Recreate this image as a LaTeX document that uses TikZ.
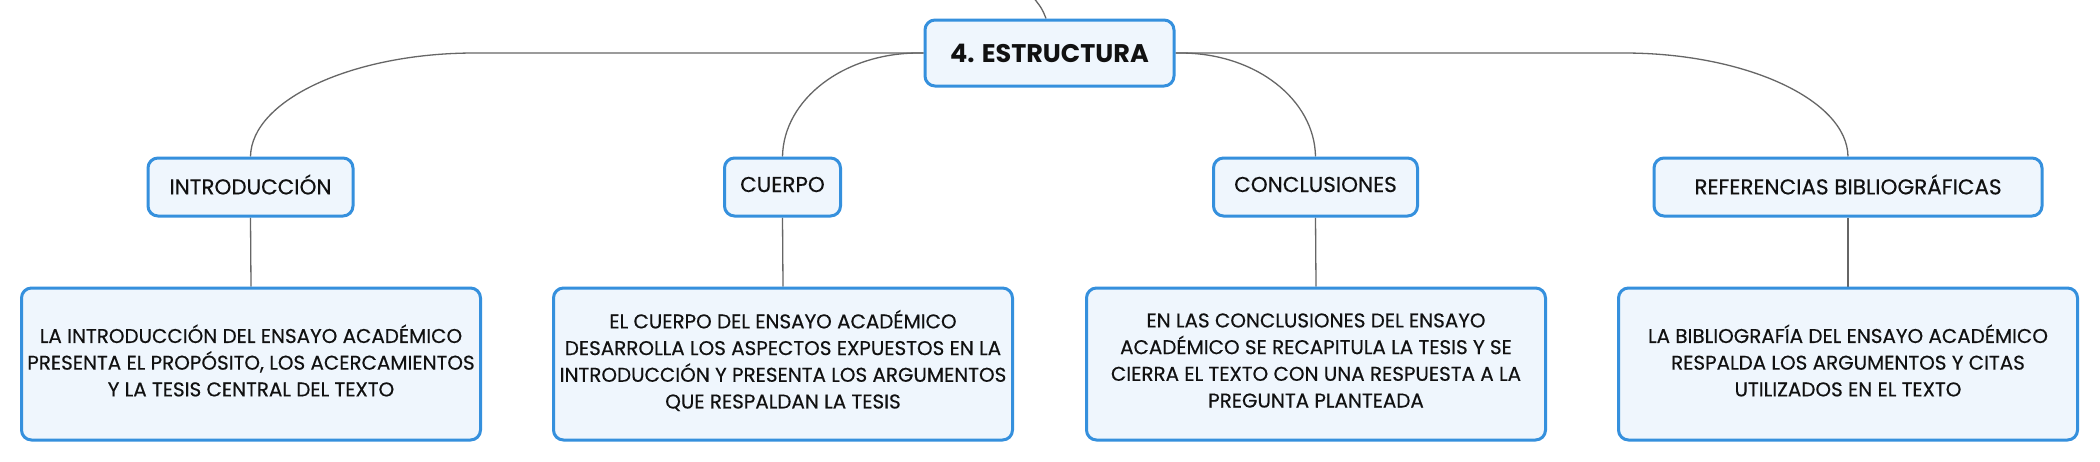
\documentclass[tikz,border=0pt]{standalone}
\usepackage{fontspec}
\setmainfont{Poppins}
\newfontfamily\medfont{Poppins}[FakeBold=0.4]
\usetikzlibrary{backgrounds}
\definecolor{boxborder}{HTML}{3590DD}
\definecolor{boxfill}{HTML}{EFF6FD}
\definecolor{conncol}{HTML}{666666}
\definecolor{txtcol}{HTML}{111111}
\tikzset{
  base/.style={draw=boxborder, fill=boxfill, line width=3pt, rounded corners=10pt,
    text=txtcol, inner sep=0pt, align=center},
  rootbox/.style={base, minimum width=249pt, minimum height=66pt,
    font=\fontsize{25.5}{29}\selectfont\bfseries},
  topicbox/.style={base, minimum height=58pt},
  topictext/.style={text=txtcol, inner sep=0pt, align=center, yshift=2.5pt,
    font=\medfont\fontsize{21.5}{25}\selectfont},
  detailbox/.style={base, minimum width=459pt, minimum height=152pt},
  detailtext/.style={text=txtcol, inner sep=0pt, align=center, yshift=3.5pt,
    font=\medfont\fontsize{19.9}{26.7}\selectfont},
  conn/.style={draw=conncol, line width=1.3pt}
}
\begin{document}
\begin{tikzpicture}[x=1pt,y=-1pt]
\useasboundingbox (0,0) rectangle (2100,461);
\node[rootbox] (root) at (1049.5,53) {4. ESTRUCTURA};
\node[topicbox, minimum width=205pt, label={[topictext]center:{INTRODUCCIÓN}}] (intro) at (250.5,187) {};
\node[topicbox, minimum width=116pt, label={[topictext]center:{CUERPO}}] (cuerpo) at (782.5,187) {};
\node[topicbox, minimum width=204pt, label={[topictext]center:{CONCLUSIONES}}] (concl) at (1315.5,187) {};
\node[topicbox, minimum width=388pt, label={[topictext]center:{REFERENCIAS BIBLIOGRÁFICAS}}] (ref) at (1848,187) {};
\node[detailbox, label={[detailtext]center:{LA INTRODUCCIÓN DEL ENSAYO ACADÉMICO\\PRESENTA EL PROPÓSITO, LOS ACERCAMIENTOS\\Y LA TESIS CENTRAL DEL TEXTO}}] (d1) at (251,364) {};
\node[detailbox, label={[detailtext]center:{EL CUERPO DEL ENSAYO ACADÉMICO\\DESARROLLA LOS ASPECTOS EXPUESTOS EN LA\\INTRODUCCIÓN Y PRESENTA LOS ARGUMENTOS\\QUE RESPALDAN LA TESIS}}] (d2) at (783,364) {};
\node[detailbox, label={[detailtext]center:{EN LAS CONCLUSIONES DEL ENSAYO\\ACADÉMICO SE RECAPITULA LA TESIS Y SE\\CIERRA EL TEXTO CON UNA RESPUESTA A LA\\PREGUNTA PLANTEADA}}] (d3) at (1316,364) {};
\node[detailbox, label={[detailtext]center:{LA BIBLIOGRAFÍA DEL ENSAYO ACADÉMICO\\RESPALDA LOS ARGUMENTOS Y CITAS\\UTILIZADOS EN EL TEXTO}}] (d4) at (1848,364) {};
\coordinate (up) at (1033,-3);
\begin{scope}[on background layer]
\fill[white] (0,0) rectangle (2100,461);
\draw[conn] (root.west) -- ([xshift=224pt]intro.north |- root.west)
  .. controls +(-121,0) and +(1,-57) .. (intro.north);
\draw[conn] (root.west) -- ++(-5,0)
  .. controls +(-75,0) and +(1,-57) .. (cuerpo.north);
\draw[conn] (root.east) -- ++(5,0)
  .. controls +(75,0) and +(-1,-57) .. (concl.north);
\draw[conn] (root.east) -- ([xshift=-224pt]ref.north |- root.east)
  .. controls +(121,0) and +(-1,-57) .. (ref.north);
\draw[conn] (intro.south) -- (d1.north);
\draw[conn] (cuerpo.south) -- (d2.north);
\draw[conn] (concl.south) -- (d3.north);
\draw[conn] (ref.south) -- (d4.north);
\draw[conn] ([xshift=-3.5pt]root.north) .. controls +(-4,-10) .. (up);
\end{scope}
\end{tikzpicture}
\end{document}
